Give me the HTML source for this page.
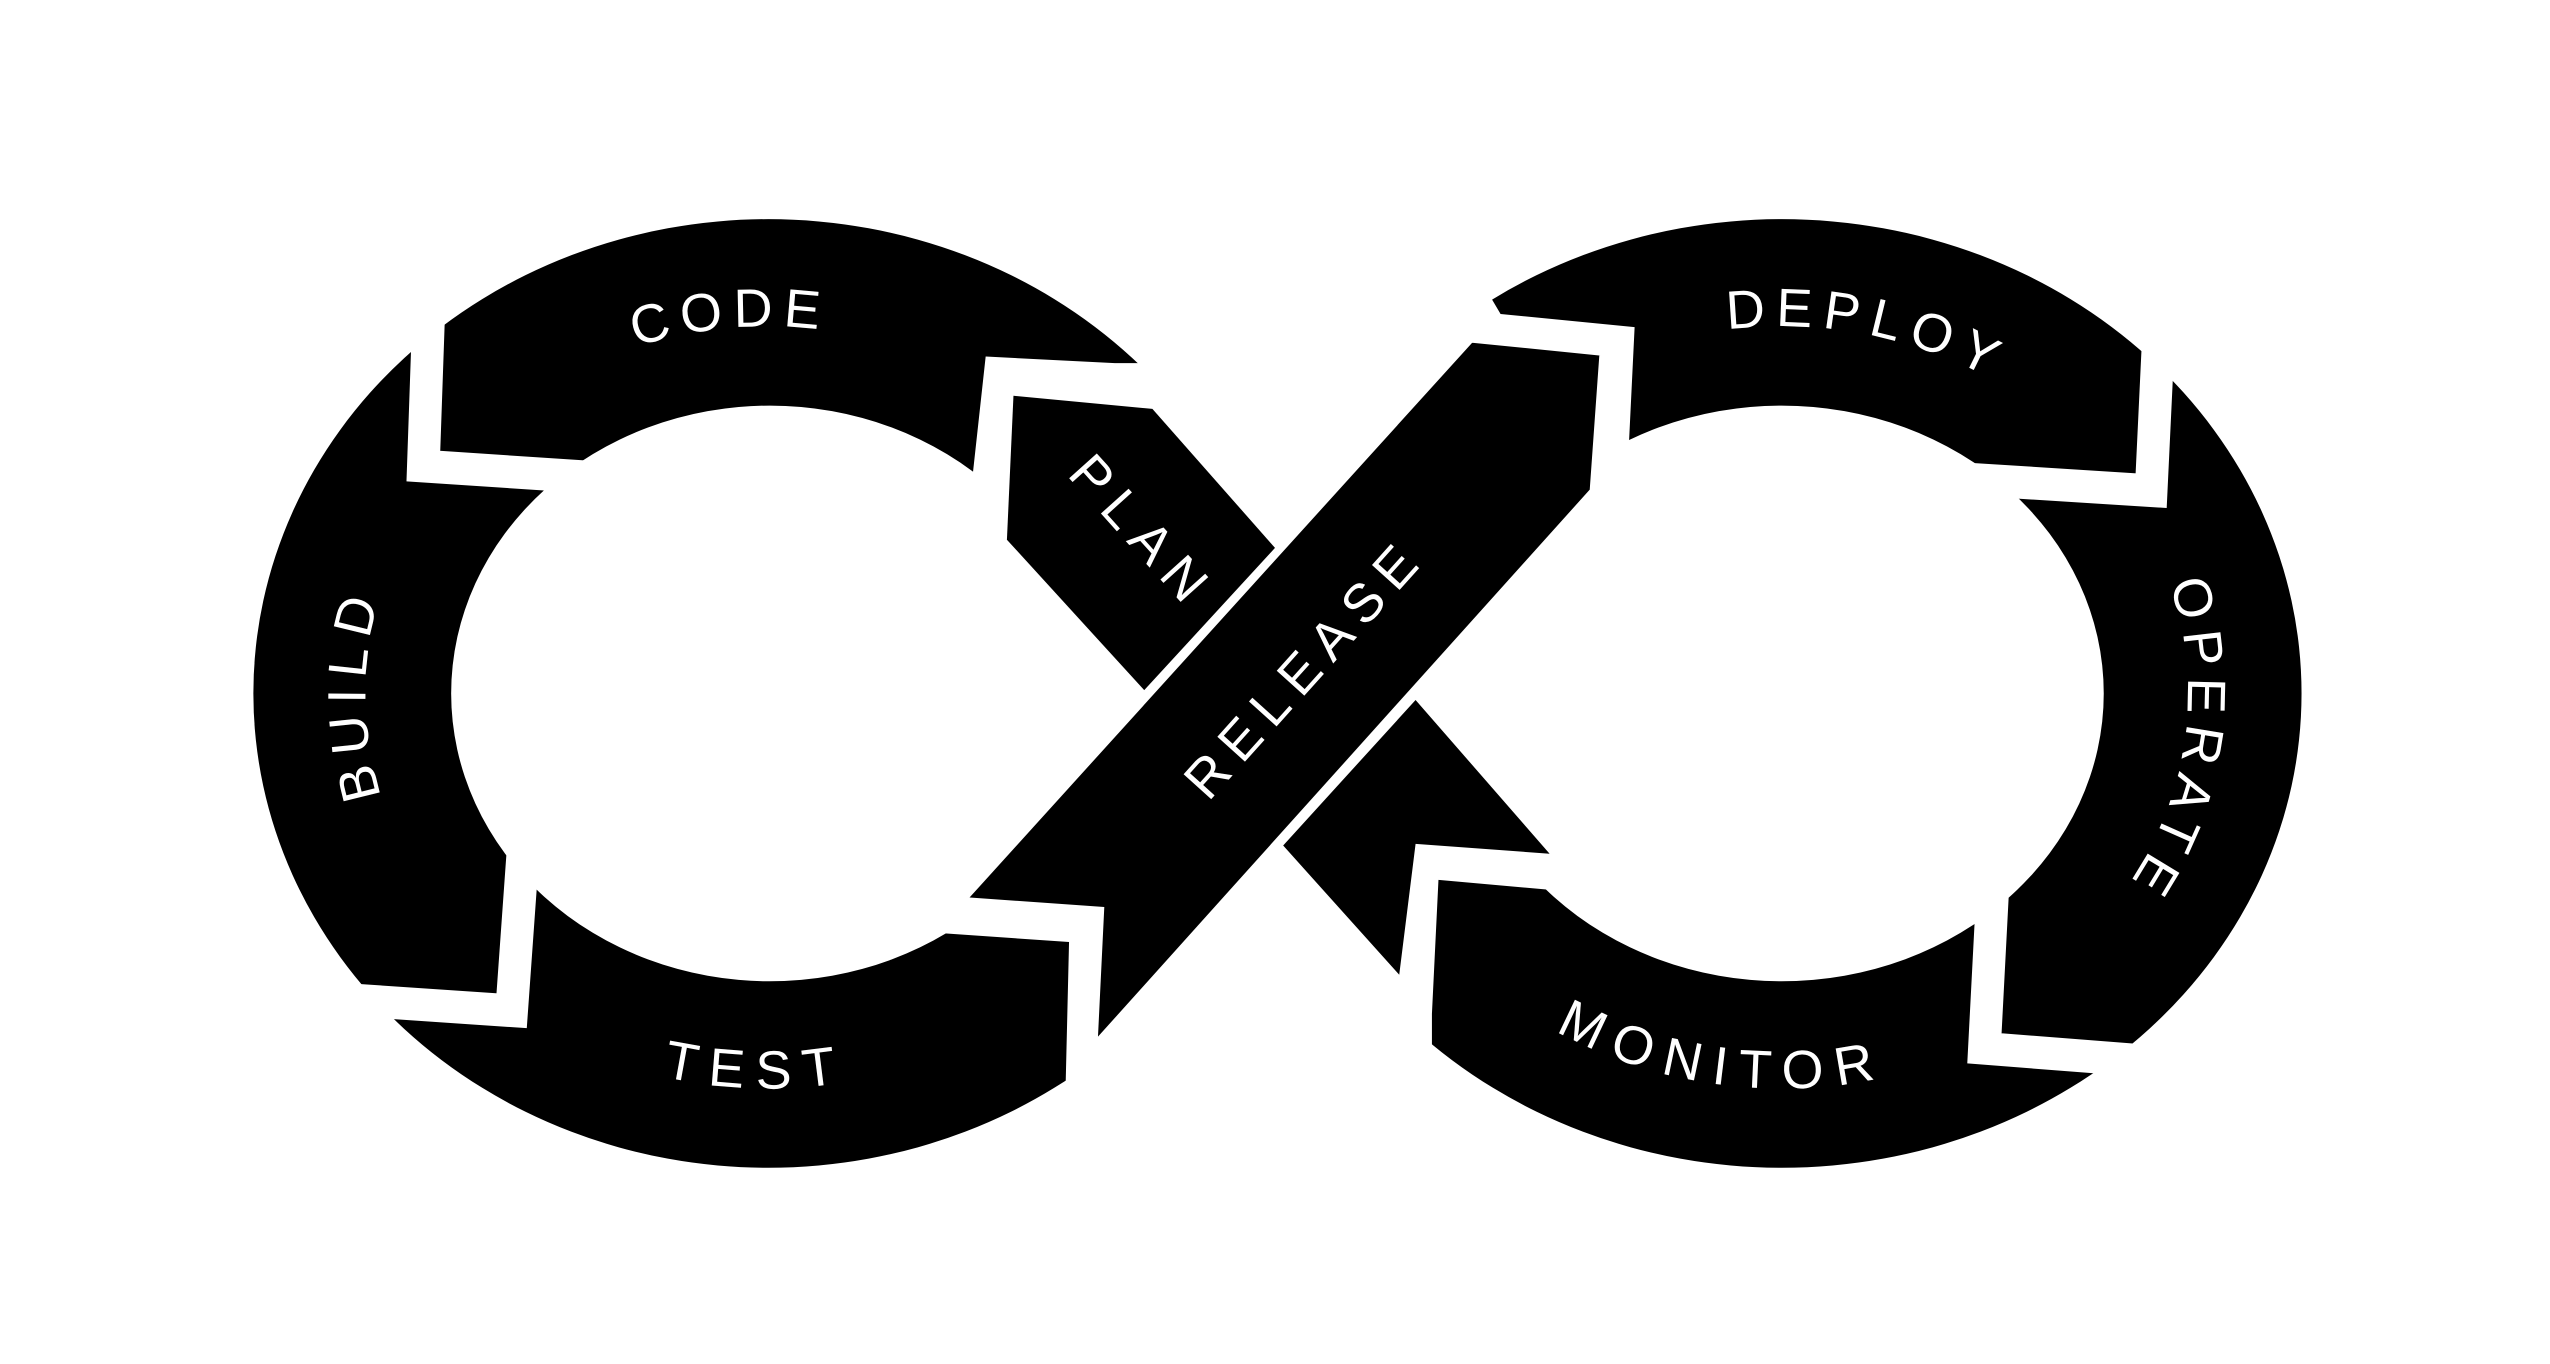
<!DOCTYPE html>
<html><head><meta charset="utf-8"><style>html,body{margin:0;padding:0;background:#fff}svg{display:block}</style></head>
<body>
<svg width="2550" height="1364" viewBox="0 0 1560 834" preserveAspectRatio="none" xmlns="http://www.w3.org/2000/svg">
<rect width="1560" height="834" fill="#fff"/>
<path fill-rule="evenodd" fill="#000" d="M155,424 A315,290 0 1 0 785,424 A315,290 0 1 0 155,424 Z M276,424 A195,176 0 1 0 666,424 A195,176 0 1 0 276,424 Z"/>
<path fill-rule="evenodd" fill="#000" d="M772,424 A318,290 0 1 0 1408,424 A318,290 0 1 0 772,424 Z M893,424 A197,176 0 1 0 1287,424 A197,176 0 1 0 893,424 Z"/>
<polygon fill="#fff" points="603,218 682,222 780,222 780,640 760,700 652,700 652,660 654,576 568,570 594,300"/>
<polygon fill="#fff" points="1000,200 918,192 905,170 780,170 780,640 876,640 876,620 880,538 970,546 996,282"/>
<polygon fill="#000" points="620,242 705,250 780,335 700,422 616,330"/>
<polygon fill="#000" points="866,428 948,522 866,516 856,596 785,517"/>
<polygon fill="#000" stroke="#fff" stroke-width="3" points="900,208 980,216 974,300 670,638 674,556 590,550"/>
<g fill="none" stroke="#fff" stroke-width="20" stroke-linejoin="miter">
<polyline points="263,170 259,285 365,292"/>
<polyline points="195,610 313,618 320,520"/>
<polyline points="1321,195 1316,300 1205,293"/>
<polyline points="1219,545 1214,641 1330,650"/>
</g>
<defs>
<path id="lt" d="M215,424 A255,233 0 0 1 725,424"/>
<path id="ll" d="M470,657 A255,233 0 0 1 470,191"/>
<path id="lb" d="M215,424 A255,233 0 0 0 725,424"/>
<path id="rt" d="M833,424 A257,233 0 0 1 1347,424"/>
<path id="rr" d="M1090,191 A257,233 0 0 1 1090,657"/>
<path id="rb" d="M833,424 A257,233 0 0 0 1347,424"/>
</defs>
<g font-family="Liberation Sans, sans-serif" font-size="33" fill="#fff" letter-spacing="7" text-anchor="middle" dominant-baseline="middle">
<text><textPath href="#lt" startOffset="47%">CODE</textPath></text>
<text><textPath href="#ll" startOffset="50%">BUILD</textPath></text>
<text><textPath href="#lb" startOffset="49%">TEST</textPath></text>
<text><textPath href="#rt" startOffset="57%">DEPLOY</textPath></text>
<text><textPath href="#rr" startOffset="54%">OPERATE</textPath></text>
<text><textPath href="#rb" startOffset="45%">MONITOR</textPath></text>
<text x="697" y="327" transform="rotate(48 697 327)">PLAN</text>
<text x="800" y="410" transform="rotate(-48 800 410)">RELEASE</text>
</g>
</svg>
</body></html>
